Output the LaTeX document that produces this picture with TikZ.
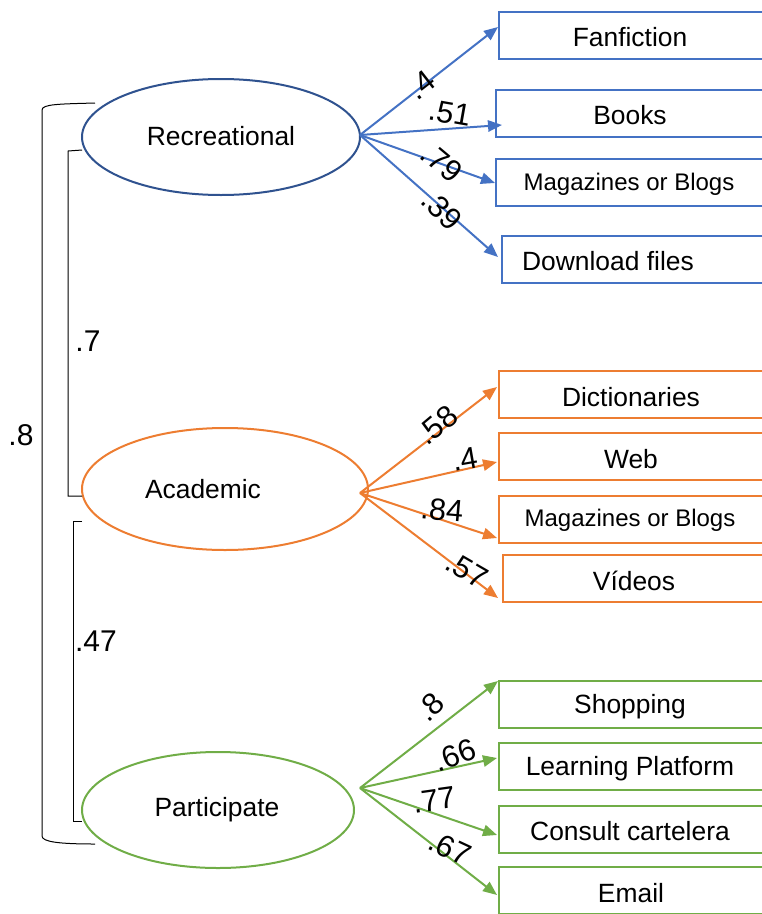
\documentclass[tikz,border=0pt]{standalone}
\usepackage{fontspec}
\setmainfont{Liberation Sans}
\usetikzlibrary{arrows.meta,shapes.geometric}
\definecolor{recd}{HTML}{2F528F}
\definecolor{recb}{HTML}{4472C4}
\definecolor{acad}{HTML}{ED7D31}
\definecolor{part}{HTML}{70AD47}
\tikzset{
  ell/.style={ellipse, draw, line width=1.5pt, inner sep=0pt},
  box/.style={rectangle, draw, line width=1.5pt, minimum width=202.5pt, minimum height=35.25pt, anchor=north west, inner sep=0pt},
  arr/.style={line width=1.5pt, -{Triangle[length=10.5pt,width=8.5pt]}},
  etxt/.style={font=\fontsize{19.8pt}{22pt}\selectfont, inner sep=0pt},
  btxt/.style={font=\fontsize{19.8pt}{22pt}\selectfont, inner sep=0pt},
  mtxt/.style={font=\fontsize{18pt}{20pt}\selectfont, inner sep=0pt},
  wlab/.style={font=\fontsize{23pt}{25pt}\selectfont, inner sep=0pt},
  clab/.style={font=\fontsize{22.5pt}{24pt}\selectfont, inner sep=0pt},
  brk/.style={line width=0.75pt, black}
}
\begin{document}
\begin{tikzpicture}[x=0.75pt,y=-0.75pt]
\useasboundingbox (0,0) rectangle (761,914);
% ellipses
\node[ell, draw=recd, minimum width=208.5pt, minimum height=87pt] (rec) at (221,137) {};
\node[etxt] (rect) at (221,136) {Recreational};
\node[ell, draw=acad, minimum width=214.5pt, minimum height=91.5pt] (aca) at (225,489) {};
\node[etxt] (acat) at (203,489) {Academic};
\node[ell, draw=part, minimum width=204pt, minimum height=87pt] (par) at (218,810) {};
\node[etxt] (part) at (217,810) {Participate};
% boxes recreational
\node[box, draw=recb] (b1) at (498,11) {};
\node[btxt] (t1) at (630,37) {Fanfiction};
\node[box, draw=recb] (b2) at (495,89) {};
\node[btxt] (t2) at (630,115) {Books};
\node[box, draw=recb] (b3) at (495,158) {};
\node[mtxt] (t3) at (629,184) {Magazines or Blogs};
\node[box, draw=recb] (b4) at (501,235) {};
\node[btxt] (t4) at (608,261) {Download files};
% boxes academic
\node[box, draw=acad] (b5) at (498,370) {};
\node[btxt] (t5) at (631,397) {Dictionaries};
\node[box, draw=acad] (b6) at (498,432) {};
\node[btxt] (t6) at (631,459) {Web};
\node[box, draw=acad] (b7) at (498,495) {};
\node[mtxt] (t7) at (630,520) {Magazines or Blogs};
\node[box, draw=acad] (b8) at (502,554) {};
\node[btxt] (t8) at (634,581) {Vídeos};
% boxes participate
\node[box, draw=part] (b9) at (498,680) {};
\node[btxt] (t9) at (630,707) {Shopping};
\node[box, draw=part] (b10) at (498,742) {};
\node[btxt] (t10) at (630,769) {Learning Platform};
\node[box, draw=part] (b11) at (498,805) {};
\node[btxt] (t11) at (630,831) {Consult cartelera};
\node[box, draw=part] (b12) at (498,866) {};
\node[btxt] (t12) at (631,893) {Email};
% arrow sources and tips
\coordinate (rs) at (360,135);
\coordinate (as) at (360,493);
\coordinate (ps) at (360,788);
\coordinate (p1) at (498,27);
\coordinate (p2) at (502,125);
\coordinate (p3) at (495,183);
\coordinate (p4) at (498,257);
\coordinate (p5) at (497,387);
\coordinate (p6) at (497,462);
\coordinate (p7) at (497,538);
\coordinate (p8) at (498,598);
\coordinate (p9) at (498,681);
\coordinate (p10) at (497,758);
\coordinate (p11) at (497,835);
\coordinate (p12) at (497,895);
\foreach \i in {1,...,4}{\draw[arr, recb] (rs) -- (p\i);}
\foreach \i in {5,...,8}{\draw[arr, acad] (as) -- (p\i);}
\foreach \i in {9,...,12}{\draw[arr, part] (ps) -- (p\i);}
% weight labels
\node[wlab, rotate=38] (w1) at (421,85) {.4};
\node[wlab, rotate=-10] (w2) at (450,113) {.51};
\node[wlab, rotate=-40] (w3) at (442,163) {.79};
\node[wlab, rotate=-45] (w4) at (442,210) {.39};
\node[wlab, rotate=40] (w5) at (437,425) {.58};
\node[wlab, rotate=10] (w6) at (465,459) {.4};
\node[wlab, rotate=-5] (w7) at (442,510) {.84};
\node[wlab, rotate=-30] (w8) at (467,570) {.57};
\node[wlab, rotate=45] (w9) at (430,707) {.8};
\node[wlab, rotate=20] (w10) at (455,755) {.66};
\node[wlab, rotate=8] (w11) at (434,800) {.77};
\node[wlab, rotate=-25] (w12) at (450,848) {.67};
% brackets
\coordinate (o1) at (95,103);
\coordinate (o2) at (95,844);
\draw[brk] (o1) .. controls (60,104) and (42,104) .. (42,110) -- (42,836) .. controls (42,842) and (60,844) .. (o2);
\coordinate (i1) at (82,150);
\coordinate (i2) at (82,496);
\draw[brk] (i1) -- (68,151) -- (68,496) -- (i2);
\coordinate (j1) at (82,521);
\coordinate (j2) at (82,821);
\draw[brk] (j1) -- (73,521) -- (73,821) -- (j2);
\node[clab] (c1) at (21,435) {.8};
\node[clab] (c2) at (88,341) {.7};
\node[clab] (c3) at (96,641) {.47};
\end{tikzpicture}
\end{document}
